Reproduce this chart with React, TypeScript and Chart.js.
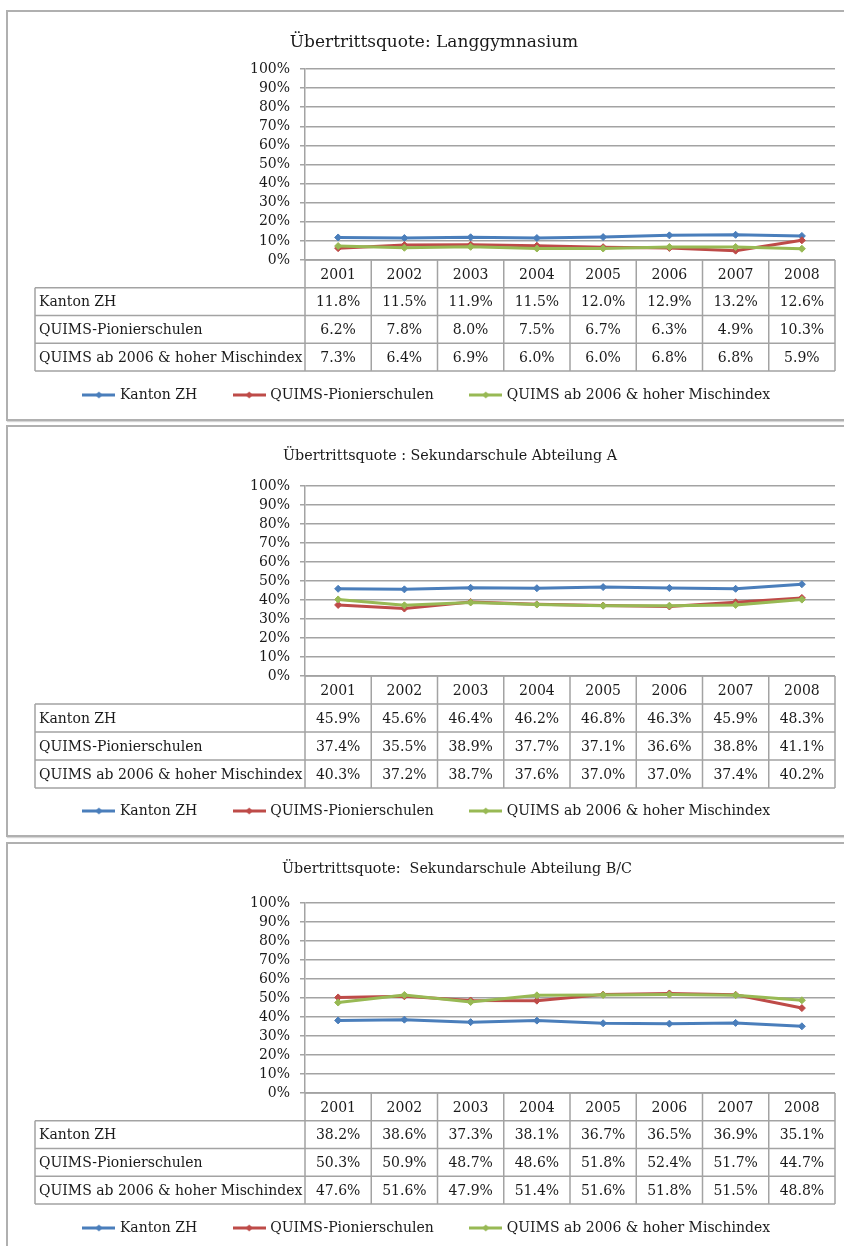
import React, { useEffect, useRef } from 'react';
import { Chart, registerables } from 'chart.js';

Chart.register(...registerables);

// ---------- data ----------
const years = ['2001', '2002', '2003', '2004', '2005', '2006', '2007', '2008'];
const seriesNames = ['Kanton ZH', 'QUIMS-Pionierschulen', 'QUIMS ab 2006 & hoher Mischindex'];
const titles = [
  'Übertrittsquote: Langgymnasium',
  'Übertrittsquote : Sekundarschule Abteilung A',
  'Übertrittsquote:  Sekundarschule Abteilung B/C',
];

const gymKanton = [11.8, 11.5, 11.9, 11.5, 12.0, 12.9, 13.2, 12.6];
const gymPionier = [6.2, 7.8, 8.0, 7.5, 6.7, 6.3, 4.9, 10.3];
const gymQuims = [7.3, 6.4, 6.9, 6.0, 6.0, 6.8, 6.8, 5.9];

const secAKanton = [45.9, 45.6, 46.4, 46.2, 46.8, 46.3, 45.9, 48.3];
const secAPionier = [37.4, 35.5, 38.9, 37.7, 37.1, 36.6, 38.8, 41.1];
const secAQuims = [40.3, 37.2, 38.7, 37.6, 37.0, 37.0, 37.4, 40.2];

const secBCKanton = [38.2, 38.6, 37.3, 38.1, 36.7, 36.5, 36.9, 35.1];
const secBCPionier = [50.3, 50.9, 48.7, 48.6, 51.8, 52.4, 51.7, 44.7];
const secBCQuims = [47.6, 51.6, 47.9, 51.4, 51.6, 51.8, 51.5, 48.8];

const yMin = 0;
const yMax = 100;
const yStep = 10;

// ---------- styling / layout ----------
const FONT = '"DejaVu Serif", serif';
const TEXT = '#1a1a1a';
const GRID = '#a3a3a3';
const COLORS = ['#4a7ebb', '#be4b48', '#98b954'];

type Layout = {
  top: number; // frame top (page)
  height: number;
  titleC: number; // relative to frame top
  titleSize: number;
  areaTop: number;
  areaBottom: number;
  legendC: number;
  rowH: number;
  titleCenterX: number;
};

const layouts: Layout[] = [
  { top: 10, height: 411, titleC: 33, titleSize: 17, areaTop: 59, areaBottom: 250, legendC: 385, rowH: 27.75, titleCenterX: 434 },
  { top: 425, height: 412, titleC: 31, titleSize: 14.3, areaTop: 61, areaBottom: 251, legendC: 386, rowH: 28, titleCenterX: 450 },
  { top: 842, height: 410, titleC: 27, titleSize: 14.3, areaTop: 61, areaBottom: 251, legendC: 386, rowH: 27.75, titleCenterX: 457 },
];

const PAD_LEFT = 20;
const PAD_RIGHT = 9;
const Y_WIDTH = 285;
const TABLE_LEFT = 35;
const LEGEND_PAD = 38;
const LEGEND_FONT = 14;

function legendIcon(color: string): HTMLCanvasElement {
  const c = document.createElement('canvas');
  c.width = 33;
  c.height = 10;
  const g = c.getContext('2d')!;
  g.strokeStyle = color;
  g.lineWidth = 3;
  g.beginPath();
  g.moveTo(0, 5);
  g.lineTo(33, 5);
  g.stroke();
  g.fillStyle = color;
  g.beginPath();
  g.moveTo(16.5, 1.5);
  g.lineTo(20, 5);
  g.lineTo(16.5, 8.5);
  g.lineTo(13, 5);
  g.closePath();
  g.fill();
  return c;
}

function Panel({ title, values, layout }: { title: string; values: number[][]; layout: Layout }) {
  const ref = useRef<HTMLCanvasElement | null>(null);

  useEffect(() => {
    const canvas = ref.current;
    if (!canvas) return;

    const legendH = LEGEND_FONT + LEGEND_PAD + 10;
    const legendTop = layout.legendC - LEGEND_PAD - LEGEND_FONT / 2;
    const xH = legendTop - layout.areaBottom;
    const padBottom = layout.height - legendTop - legendH;
    const titleLH = layout.titleSize * 1.2;

    const tablePlugin = {
      id: 'dataTable',
      afterDraw(chart: any) {
        const { ctx, chartArea: a } = chart;
        const xs = chart.scales.x;
        const n = years.length;
        const colW = (a.right - a.left) / n;
        const rh = layout.rowH;
        const top = a.bottom;
        const bottom = top + rh * (values.length + 1);
        ctx.save();
        ctx.strokeStyle = GRID;
        ctx.lineWidth = 1.5;
        ctx.beginPath();
        ctx.moveTo(a.left, top);
        ctx.lineTo(a.right, top);
        for (let r = 1; r <= values.length + 1; r++) {
          const y = top + rh * r;
          ctx.moveTo(TABLE_LEFT, y);
          ctx.lineTo(a.right, y);
        }
        for (let k = 0; k <= n; k++) {
          const x = a.left + colW * k;
          ctx.moveTo(x, top);
          ctx.lineTo(x, bottom);
        }
        ctx.moveTo(TABLE_LEFT, top + rh);
        ctx.lineTo(TABLE_LEFT, bottom);
        ctx.stroke();

        ctx.fillStyle = TEXT;
        ctx.font = `14px ${FONT}`;
        ctx.textBaseline = 'middle';
        ctx.textAlign = 'center';
        years.forEach((yr, i) => {
          ctx.fillText(yr, xs.getPixelForValue(i), top + rh / 2 + 1);
        });
        values.forEach((row, r) => {
          const cy = top + rh * (r + 1) + rh / 2 + 1;
          ctx.textAlign = 'left';
          ctx.fillText(seriesNames[r], TABLE_LEFT + 4, cy);
          ctx.textAlign = 'center';
          row.forEach((v, i) => {
            ctx.fillText(v.toFixed(1) + '%', xs.getPixelForValue(i), cy);
          });
        });
        ctx.restore();
      },
    };

    const titleShift = {
      id: 'titleShift',
      afterLayout(chart: any) {
        const t = chart.titleBlock;
        if (t) {
          const dx = layout.titleCenterX - (t.left + t.right) / 2;
          t.left += dx;
          t.right += dx;
        }
      },
    };

    const icons = COLORS.map(legendIcon);

    const chart = new Chart(canvas, {
      type: 'line',
      data: {
        labels: years,
        datasets: seriesNames.map((name, i) => ({
          label: name,
          data: values[i],
          borderColor: COLORS[i],
          backgroundColor: COLORS[i],
          pointBackgroundColor: COLORS[i],
          pointBorderColor: COLORS[i],
          borderWidth: 3,
          pointStyle: 'rectRot',
          pointRadius: 3.5,
          pointBorderWidth: 1,
          tension: 0,
          fill: false,
          order: seriesNames.length - i,
        })),
      },
      options: {
        responsive: false,
        animation: false,
        devicePixelRatio: 1,
        events: [],
        layout: { padding: { left: PAD_LEFT, right: PAD_RIGHT, top: 0, bottom: padBottom } },
        plugins: {
          title: {
            display: true,
            text: title,
            color: TEXT,
            font: { family: FONT, size: layout.titleSize, weight: 'normal', lineHeight: 1.2 },
            padding: { top: layout.titleC - titleLH / 2, bottom: layout.areaTop - layout.titleC - titleLH / 2 },
          },
          legend: {
            position: 'bottom',
            labels: {
              usePointStyle: true,
              pointStyleWidth: 28,
              padding: LEGEND_PAD,
              color: TEXT,
              font: { family: FONT, size: LEGEND_FONT },
              sort: (a: any, b: any) => a.datasetIndex - b.datasetIndex,
              generateLabels: (c: any) => {
                const items = (Chart.defaults.plugins.legend.labels as any).generateLabels(c);
                return items.map((it: any) => ({ ...it, pointStyle: icons[it.datasetIndex], lineWidth: 3 }));
              },
            },
          },
          tooltip: { enabled: false },
        },
        scales: {
          x: {
            offset: true,
            grid: { display: false },
            border: { display: false },
            ticks: { display: false },
            afterFit: (s: any) => {
              s.height = xH;
            },
          },
          y: {
            min: yMin,
            max: yMax,
            ticks: {
              stepSize: yStep,
              autoSkip: false,
              padding: 10,
              color: TEXT,
              font: { family: FONT, size: 14 },
              callback: (v: any) => v + '%',
            },
            grid: { color: GRID, lineWidth: 1.5, tickLength: 5, drawTicks: true },
            border: { display: true, color: GRID, width: 1.5 },
            afterFit: (s: any) => {
              s.width = Y_WIDTH;
            },
          },
        },
      } as any,
      plugins: [tablePlugin, titleShift],
    });

    return () => chart.destroy();
  }, [title, values, layout]);

  return (
    <>
      <div
        style={{
          position: 'absolute',
          left: 6,
          top: layout.top,
          width: 860,
          height: layout.height - 4,
          border: '2px solid #b0b0b0',
          boxShadow: '1px 1px 1px #d6d6d6',
        }}
      />
      <canvas
        ref={ref}
        width={844}
        height={layout.height}
        style={{ position: 'absolute', left: 0, top: layout.top, width: 844, height: layout.height }}
      />
    </>
  );
}

const panelValues = [
  [gymKanton, gymPionier, gymQuims],
  [secAKanton, secAPionier, secAQuims],
  [secBCKanton, secBCPionier, secBCQuims],
];

export default function App() {
  return (
    <div
      style={{
        position: 'absolute',
        left: 0,
        top: 0,
        width: 844,
        height: 1246,
        overflow: 'hidden',
        background: '#ffffff',
        fontFamily: FONT,
      }}
    >
      {titles.map((t, i) => (
        <Panel key={i} title={t} values={panelValues[i]} layout={layouts[i]} />
      ))}
    </div>
  );
}
